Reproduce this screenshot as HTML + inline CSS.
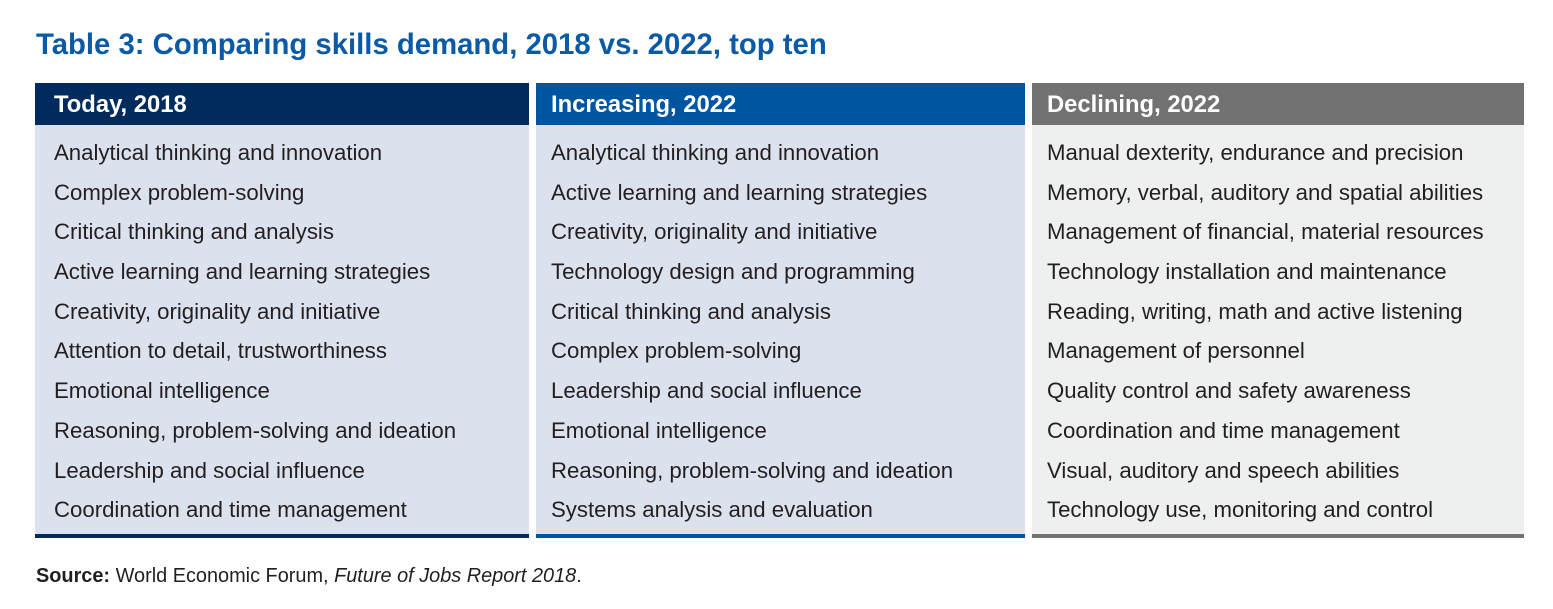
<!DOCTYPE html>
<html><head><style>
body{margin:0;width:1553px;height:609px;background:#fff;font-family:"Liberation Sans",sans-serif;position:relative;overflow:hidden}
.t{position:absolute;left:36px;top:28px;font-size:29.3px;font-weight:bold;color:#0a5aa5;white-space:nowrap}
.col{position:absolute;top:83px;height:455px}
.h{height:42px;line-height:43px;color:#fff;font-weight:bold;font-size:23.8px;padding-left:19px}
.b{height:413px;padding-top:8px;box-sizing:border-box;border-bottom:4px solid}
.b div{height:39.7px;line-height:39px;font-size:22.2px;color:#231f20;padding-left:19px;white-space:nowrap}
.s{position:absolute;left:36px;top:565px;font-size:19.9px;color:#231f20}
</style></head><body>
<div class="t">Table 3: Comparing skills demand, 2018 vs. 2022, top ten</div>
<div class="col" style="left:35px;width:494px">
<div class="h" style="background:#002b5c">Today, 2018</div>
<div class="b" style="background:#dce1ee;border-color:#002b5c">
<div>Analytical thinking and innovation</div><div>Complex problem-solving</div><div>Critical thinking and analysis</div><div>Active learning and learning strategies</div><div>Creativity, originality and initiative</div><div>Attention to detail, trustworthiness</div><div>Emotional intelligence</div><div>Reasoning, problem-solving and ideation</div><div>Leadership and social influence</div><div>Coordination and time management</div></div></div>
<div class="col" style="left:536px;width:489px">
<div class="h" style="background:#0055a0;padding-left:15px">Increasing, 2022</div>
<div class="b" style="background:#dce1ee;border-color:#0055a0">
<div style="padding-left:15px">Analytical thinking and innovation</div><div style="padding-left:15px">Active learning and learning strategies</div><div style="padding-left:15px">Creativity, originality and initiative</div><div style="padding-left:15px">Technology design and programming</div><div style="padding-left:15px">Critical thinking and analysis</div><div style="padding-left:15px">Complex problem-solving</div><div style="padding-left:15px">Leadership and social influence</div><div style="padding-left:15px">Emotional intelligence</div><div style="padding-left:15px">Reasoning, problem-solving and ideation</div><div style="padding-left:15px">Systems analysis and evaluation</div></div></div>
<div class="col" style="left:1032px;width:492px">
<div class="h" style="background:#727272;padding-left:15px">Declining, 2022</div>
<div class="b" style="background:#eeefef;border-color:#727272">
<div style="padding-left:15px">Manual dexterity, endurance and precision</div><div style="padding-left:15px">Memory, verbal, auditory and spatial abilities</div><div style="padding-left:15px">Management of financial, material resources</div><div style="padding-left:15px">Technology installation and maintenance</div><div style="padding-left:15px">Reading, writing, math and active listening</div><div style="padding-left:15px">Management of personnel</div><div style="padding-left:15px">Quality control and safety awareness</div><div style="padding-left:15px">Coordination and time management</div><div style="padding-left:15px">Visual, auditory and speech abilities</div><div style="padding-left:15px">Technology use, monitoring and control</div></div></div>
<div class="s"><b>Source:</b> World Economic Forum, <i>Future of Jobs Report 2018</i>.</div>
</body></html>
